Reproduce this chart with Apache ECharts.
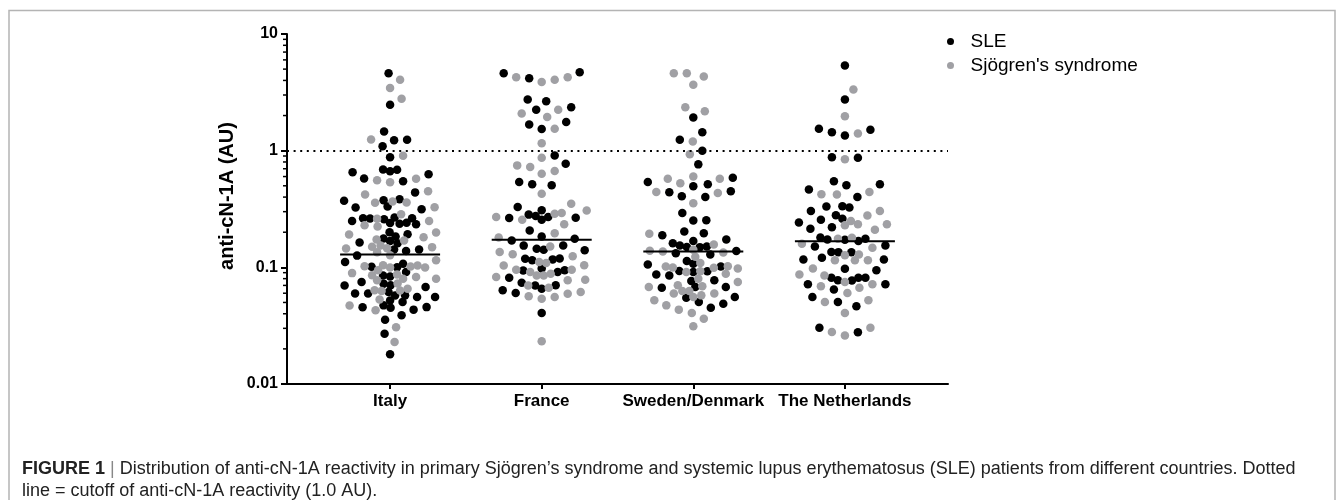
<!DOCTYPE html>
<html>
<head>
<meta charset="utf-8">
<script src="https://cdn.jsdelivr.net/npm/echarts@6/dist/echarts.min.js"></script>
<style>
  html, body { margin: 0; padding: 0; background: #fff; }
  #chart { width: 1344px; height: 500px; }
</style>
</head>
<body>
<div id="chart"></div>
<script>
// groups along the x axis
const groups = ['Italy', 'France', 'Sweden/Denmark', 'The Netherlands'];
// horizontal bar in each column
const medians = [0.129, 0.172, 0.137, 0.167];
// dotted cutoff line
const cutoff = 1.0;

// anti-cN-1A values (AU)
const italySLE = [4.6, 2.47, 1.46, 1.24, 1.23, 1.09, 0.88, 0.69, 0.685, 0.652, 0.627, 0.578, 0.546, 0.665, 0.439,
  0.333, 0.383, 0.375, 0.372, 0.326, 0.314, 0.268, 0.263, 0.262, 0.258, 0.249, 0.240, 0.234, 0.236, 0.241, 0.264,
  0.200, 0.192, 0.163, 0.161, 0.168, 0.177, 0.184, 0.142, 0.1075, 0.111, 0.126, 0.138, 0.1425, 0.100, 0.0853, 0.0910,
  0.101, 0.0836, 0.0748, 0.0725, 0.0701, 0.0678, 0.0700, 0.0598, 0.0575, 0.0557, 0.0504, 0.0520, 0.0556, 0.0574,
  0.0597, 0.0614, 0.0472, 0.0456, 0.0455, 0.0434, 0.0450, 0.0356, 0.0388, 0.027, 0.018];
const italySS = [4.06, 3.44, 2.79, 1.245, 0.905, 0.535, 0.557, 0.575, 0.422, 0.448, 0.360, 0.327, 0.358, 0.367, 0.285,
  0.229, 0.224, 0.250, 0.261, 0.181, 0.170, 0.154, 0.191, 0.199, 0.173, 0.149, 0.145, 0.135, 0.127, 0.115, 0.1455,
  0.150, 0.104, 0.102, 0.0998, 0.0942, 0.0892, 0.0870, 0.0995, 0.1015, 0.1035, 0.0798, 0.0656, 0.0727, 0.0774,
  0.0800, 0.0825, 0.0855, 0.0635, 0.0626, 0.0529, 0.0634, 0.0428, 0.0471, 0.0307, 0.0229];

const franceSLE = [4.71, 4.18, 4.61, 2.65, 2.74, 2.24, 2.36, 1.68, 1.76, 1.535, 0.911, 0.773, 0.539, 0.505, 0.515,
  0.329, 0.308, 0.275, 0.270, 0.265, 0.2555, 0.266, 0.283, 0.170, 0.176, 0.184, 0.207, 0.154, 0.1415, 0.140, 0.1445,
  0.1535, 0.119, 0.115, 0.0975, 0.117, 0.1185, 0.0942, 0.0911, 0.0815, 0.0739, 0.0701, 0.0699, 0.0940, 0.0635,
  0.0602, 0.0656, 0.0406];
const franceSS = [4.26, 3.87, 4.06, 4.25, 2.245, 1.94, 2.08, 1.54, 1.16, 0.87, 0.723, 0.635, 0.668, 0.748, 0.428,
  0.351, 0.307, 0.288, 0.256, 0.2695, 0.292, 0.234, 0.196, 0.180, 0.151, 0.1355, 0.1295, 0.109, 0.104, 0.0955,
  0.0952, 0.1038, 0.111, 0.1245, 0.0853, 0.0783, 0.0700, 0.0774, 0.0825, 0.0852, 0.0882, 0.091, 0.0669, 0.0564,
  0.0538, 0.0556, 0.0594, 0.0614, 0.0232];

const swedenSLE = [1.92, 1.44, 1.24, 1.00, 0.763, 0.539, 0.515, 0.495, 0.587, 0.448, 0.406, 0.400, 0.441, 0.292,
  0.253, 0.252, 0.196, 0.203, 0.188, 0.173, 0.168, 0.161, 0.154, 0.149, 0.138, 0.132, 0.1495, 0.151, 0.129, 0.106,
  0.1015, 0.1075, 0.1135, 0.0911, 0.0870, 0.0853, 0.0774, 0.0763, 0.0927, 0.0929, 0.0669, 0.0556, 0.0549, 0.0677,
  0.0679, 0.0504, 0.0451, 0.0488];
const swedenSS = [4.61, 4.32, 3.67, 4.60, 2.36, 2.18, 1.20, 0.93, 0.602, 0.575, 0.525, 0.574, 0.442, 0.434, 0.355,
  0.194, 0.1415, 0.134, 0.137, 0.1385, 0.157, 0.123, 0.109, 0.102, 0.0993, 0.1018, 0.0975, 0.0925, 0.0800, 0.0882,
  0.0912, 0.0995, 0.0748, 0.0701, 0.0678, 0.0626, 0.0598, 0.0557, 0.0575, 0.0597, 0.0627, 0.0687, 0.0472, 0.0434,
  0.0406, 0.0521, 0.0363, 0.0312];

const nlSLE = [5.38, 2.74, 1.51, 1.35, 1.44, 1.54, 0.88, 0.87, 0.546, 0.505, 0.464, 0.515, 0.400, 0.333, 0.325,
  0.304, 0.334, 0.279, 0.261, 0.221, 0.242, 0.256, 0.214, 0.176, 0.173, 0.168, 0.154, 0.180, 0.151, 0.1725, 0.135,
  0.1352, 0.1348, 0.1166, 0.1168, 0.121, 0.0942, 0.0973, 0.0815, 0.0774, 0.0772, 0.0814, 0.0816, 0.0716, 0.0645,
  0.0717, 0.0556, 0.0504, 0.0463, 0.0304, 0.0278];
const nlSS = [3.34, 1.97, 1.40, 0.843, 0.422, 0.442, 0.423, 0.3045, 0.2785, 0.234, 0.210, 0.249, 0.229, 0.2335,
  0.179, 0.147, 0.159, 0.1755, 0.127, 0.115, 0.1148, 0.1152, 0.129, 0.0975, 0.0870, 0.0853, 0.0748, 0.0687, 0.0602,
  0.0669, 0.0715, 0.0505, 0.0521, 0.0406, 0.0279, 0.0261, 0.0303];

const sleByGroup = [italySLE, franceSLE, swedenSLE, nlSLE];
const ssByGroup = [italySS, franceSS, swedenSS, nlSS];

const fontFamily = '"Liberation Sans", Arial, Helvetica, sans-serif';
const grey = '#a0a0a4';
const xMin = 0.32, xMax = 4.68;

const chart = echarts.init(document.getElementById('chart'));

// axes first, so the swarm can be laid out through the chart's own scales
chart.setOption({
  animation: false,
  backgroundColor: '#fff',
  textStyle: { fontFamily: fontFamily },
  grid: { left: 287, right: 396, top: 34, bottom: 116, containLabel: false, outerBoundsMode: 'none' },
  xAxis: {
    type: 'value', min: xMin, max: xMax,
    splitLine: { show: false },
    axisLine: { onZero: false, lineStyle: { color: '#000', width: 2 } },
    axisTick: { customValues: [1, 2, 3, 4], length: 5, lineStyle: { color: '#000', width: 2 } },
    axisLabel: {
      customValues: [1, 2, 3, 4], margin: 9,
      formatter: v => groups[Math.round(v) - 1],
      color: '#000', fontWeight: 'bold', fontSize: 17, fontFamily: fontFamily
    }
  },
  yAxis: {
    type: 'log', logBase: 10, min: 0.01, max: 10,
    splitLine: { show: false },
    axisLine: { show: true, onZero: false, lineStyle: { color: '#000', width: 2 } },
    axisTick: { show: true, length: 6, lineStyle: { color: '#000', width: 2 } },
    axisLabel: {
      margin: 9, color: '#000', fontWeight: 'bold', fontSize: 16, fontFamily: fontFamily,
      formatter: v => v >= 1 ? String(Math.round(v)) : String(+v.toPrecision(2))
    }
  },
  series: []
});

// simple beeswarm: lowest values first, each dot goes as near the centre as it can
function layoutGroup(gi) {
  const pts = [];
  sleByGroup[gi].forEach(v => pts.push({ v: v, s: 0 }));
  ssByGroup[gi].forEach(v => pts.push({ v: v, s: 1 }));
  pts.forEach(p => { p.py = chart.convertToPixel({ gridIndex: 0 }, [gi + 1, p.v])[1]; });
  pts.sort((a, b) => b.py - a.py);
  const cx = chart.convertToPixel({ gridIndex: 0 }, [gi + 1, 1])[0];
  const D1 = 13, D2 = 7, maxW = 46;
  const cands = [0];
  for (let d = 0.5; d <= maxW; d += 0.5) cands.push(d, -d);
  const placed = [];
  pts.forEach(p => {
    const near = placed.filter(q => Math.abs(q.py - p.py) < D1);
    const minD = x => {
      let m = Infinity;
      near.forEach(q => {
        const dx = q.x - x, dy = q.py - p.py;
        const d = Math.sqrt(dx * dx + dy * dy);
        if (d < m) m = d;
      });
      return m;
    };
    let pick = null;
    for (const lim of [D1, D2]) {
      for (const x of cands) {
        if (minD(x) >= lim) { pick = x; break; }
      }
      if (pick !== null) break;
    }
    if (pick === null) {
      let best = -1;
      cands.forEach(x => { const m = minD(x); if (m > best + 1e-9) { best = m; pick = x; } });
    }
    p.x = pick;
    placed.push(p);
  });
  return pts.map(p => ({
    s: p.s,
    x: chart.convertFromPixel({ gridIndex: 0 }, [cx + p.x, p.py])[0],
    v: p.v
  }));
}

const sleData = [], ssData = [];
for (let gi = 0; gi < groups.length; gi++) {
  layoutGroup(gi).forEach(p => {
    (p.s === 0 ? sleData : ssData).push([p.x, p.v]);
  });
}

// minor ticks of the log axis (2..9 in every decade)
const minorTicks = [];
for (let e = -2; e <= 0; e++) {
  for (let m = 2; m <= 9; m++) minorTicks.push([xMin, m * Math.pow(10, e)]);
}

chart.setOption({
  legend: {
    orient: 'vertical', left: 942, top: 27,
    itemWidth: 30, itemHeight: 7, itemGap: 5,
    selectedMode: false,
    textStyle: { fontSize: 19, color: '#000', fontFamily: fontFamily },
    data: [{ name: 'SLE', icon: 'circle' }, { name: "Sjögren's syndrome", icon: 'circle' }]
  },
  graphic: [
    {
      type: 'rect', silent: true,
      shape: { x: 9, y: 10.5, width: 1326, height: 600 },
      style: { fill: null, stroke: '#b4b4b4', lineWidth: 1.5 }
    },
    {
      type: 'text', x: 227, y: 196, rotation: Math.PI / 2,
      style: {
        text: 'anti-cN-1A (AU)', fill: '#000', fontSize: 20, fontWeight: 'bold',
        fontFamily: fontFamily, align: 'center', verticalAlign: 'middle'
      }
    },
    {
      type: 'text', x: 22, y: 469,
      style: {
        text: '{b|FIGURE 1} {sep|\u007c} Distribution of anti-cN-1A reactivity in primary Sj\u00f6gren\u2019s syndrome and systemic lupus erythematosus (SLE) patients from different countries. Dotted',
        fill: '#222', fontSize: 18, fontFamily: fontFamily, verticalAlign: 'middle',
        rich: {
          b: { fontWeight: 'bold', fontSize: 18, fill: '#222', fontFamily: fontFamily },
          sep: { fontSize: 18, fill: '#888', fontFamily: fontFamily }
        }
      }
    },
    {
      type: 'text', x: 22, y: 491,
      style: {
        text: 'line = cutoff of anti-cN-1A reactivity (1.0 AU).',
        fill: '#222', fontSize: 18, fontFamily: fontFamily, verticalAlign: 'middle'
      }
    }
  ],
  series: [
    {
      name: 'SLE', type: 'scatter', symbol: 'circle', symbolSize: 8.5,
      itemStyle: { color: '#000', opacity: 1 },
      data: sleData, z: 2,
      markLine: {
        silent: true, symbol: ['none', 'none'], label: { show: false },
        lineStyle: { color: '#000', width: 2, type: [2, 4.6] },
        data: [{ yAxis: cutoff }]
      }
    },
    {
      name: "Sjögren's syndrome", type: 'scatter', symbol: 'circle', symbolSize: 8.5,
      itemStyle: { color: grey, opacity: 1 },
      data: ssData, z: 2
    },
    {
      type: 'custom', silent: true, z: 4, clip: false,
      data: medians.map((m, i) => [i + 1, m]),
      renderItem: (params, api) => {
        const p = api.coord([api.value(0), api.value(1)]);
        return {
          type: 'line',
          shape: { x1: p[0] - 50, y1: p[1], x2: p[0] + 50, y2: p[1] },
          style: { stroke: '#000', lineWidth: 2 }
        };
      }
    },
    {
      type: 'custom', silent: true, z: 4, clip: false,
      data: minorTicks,
      renderItem: (params, api) => {
        const p = api.coord([api.value(0), api.value(1)]);
        return {
          type: 'line',
          shape: { x1: p[0] - 4, y1: p[1], x2: p[0], y2: p[1] },
          style: { stroke: '#000', lineWidth: 1.5 }
        };
      }
    }
  ]
});
</script>
</body>
</html>
